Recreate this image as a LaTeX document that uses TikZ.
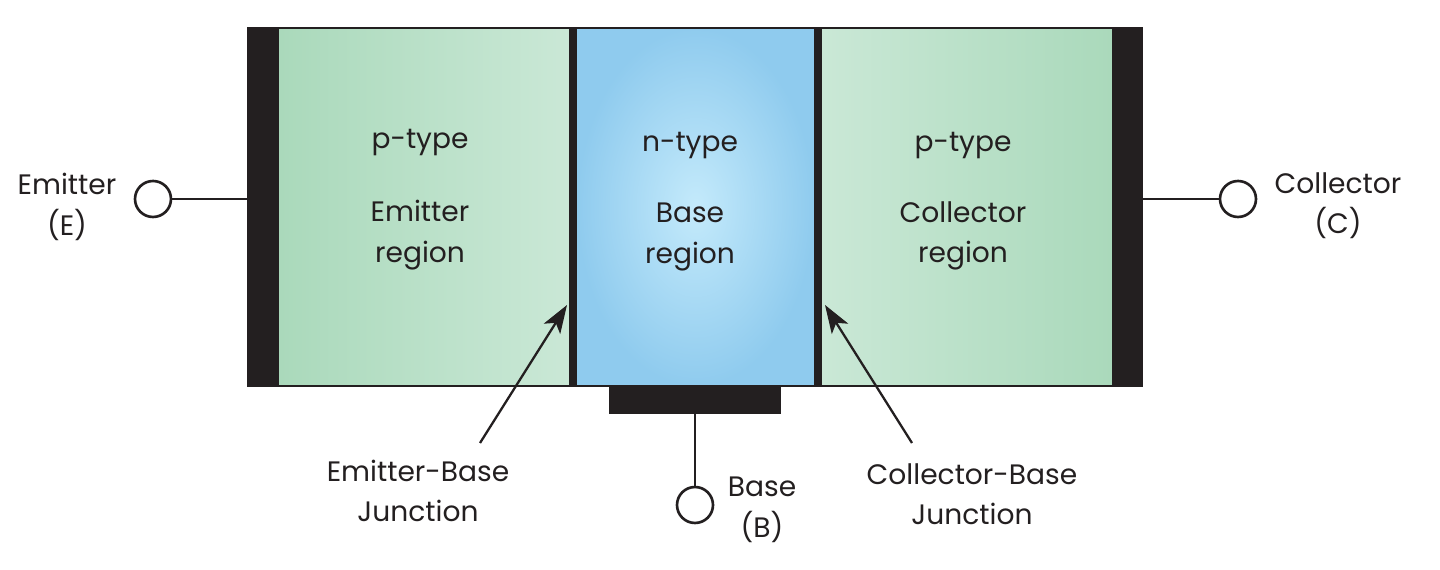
\documentclass[tikz,border=0pt]{standalone}
\usepackage{fontspec}
\setmainfont{Poppins}
\usetikzlibrary{positioning}
\usetikzlibrary{arrows.meta}
\definecolor{pColor}{HTML}{AAD9BB}
\definecolor{pLight}{HTML}{CAE8D6}
\definecolor{nColor}{HTML}{8FCBEE}
\definecolor{nLight}{HTML}{C4EAFB}
\definecolor{inkColor}{HTML}{231F20}

\begin{document}
\begin{tikzpicture}[x=0.02cm, y=-0.02cm,
    lbl/.style={text=inkColor, font=\fontsize{16}{23}\selectfont, align=center, inner sep=0pt},
    term/.style={draw=inkColor, circle, line width=1.5pt, fill=white, minimum size=0.72cm, inner sep=0pt},
    wire/.style={draw=inkColor, line width=1.3pt},
    pointer/.style={draw=inkColor, line width=1.3pt, -{Stealth[length=16pt, width=11pt, inset=4pt]}}]
          \useasboundingbox (0,0) rectangle (1440,570);
          % regions
          \shade[left color=pColor, middle color=pColor!70!pLight, right color=pLight] (279,28) rectangle (569,386);
          \shade[inner color=nLight, outer color=nColor] (577,28) rectangle (814,386);
          \shade[left color=pLight, middle color=pColor!70!pLight, right color=pColor] (822,28) rectangle (1112,386);
          % contacts and junctions
          \fill[inkColor] (248,28) rectangle (279,386);
          \fill[inkColor] (569,28) rectangle (577,386);
          \fill[inkColor] (814,28) rectangle (822,386);
          \fill[inkColor] (1112,28) rectangle (1142,386);
          \fill[inkColor] (609,386) rectangle (781,414);
          \draw[inkColor, line width=1.2pt] (248,28) rectangle (1142,386);
          \node[lbl] (pE) at (420,143) {p-type};
          \node[lbl] (regE) at (420,235) {Emitter\\region};
          \node[lbl] (nB) at (690,146) {n-type};
          \node[lbl] (regB) at (690,237) {Base\\region};
          \node[lbl] (pC) at (963,146) {p-type};
          \node[lbl] (regC) at (963,236) {Collector\\region};
          % terminals
          \coordinate (eLead) at (248,199);
          \coordinate (cLead) at (1142,199);
          \coordinate (bLead) at (695,414);
          \node[term] (E) at (153,199) {};
          \node[term] (C) at (1238,199) {};
          \node[term] (B) at (695,505) {};
          \draw[wire] (E) -- (eLead);
          \draw[wire] (C) -- (cLead);
          \draw[wire] (B) -- (bLead);
          \node[lbl] (emLbl) at (67,207) {Emitter\\(E)};
          \node[lbl] (colLbl) at (1338,206) {Collector\\(C)};
          \node[lbl] (baseLbl) at (762,510) {Base\\(B)};
          % junction labels
          \node[lbl] (ebLbl) at (418,491) {Emitter-Base\\Junction};
          \node[lbl] (cbLbl) at (972,494) {Collector-Base\\Junction};
          \coordinate (ebTail) at (480,443);
          \coordinate (ebTip) at (567,305);
          \coordinate (cbTail) at (912,443);
          \coordinate (cbTip) at (825,305);
          \draw[pointer] (ebTail) -- (ebTip);
          \draw[pointer] (cbTail) -- (cbTip);
        \end{tikzpicture}
\end{document}
